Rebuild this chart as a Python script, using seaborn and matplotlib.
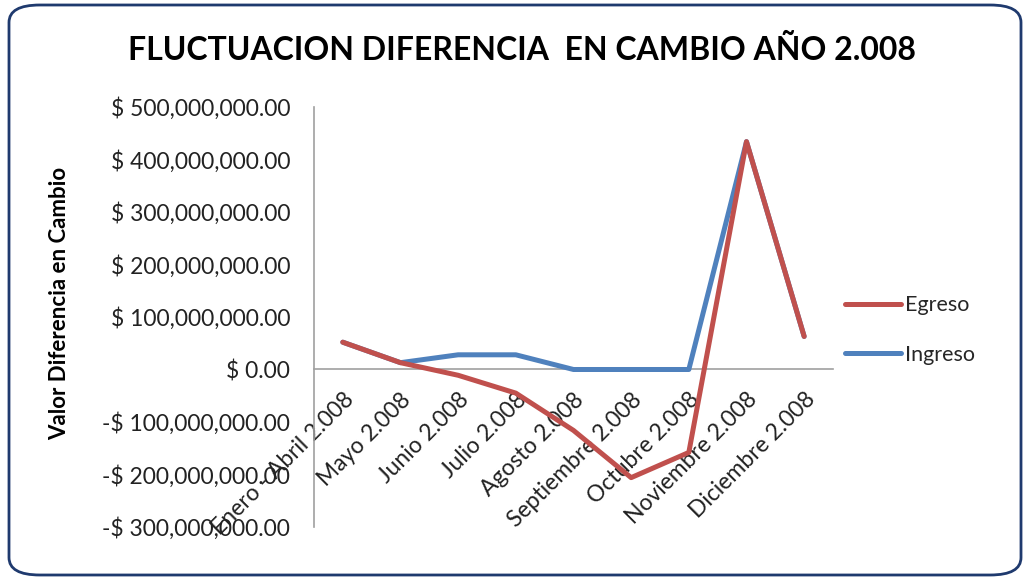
import matplotlib
matplotlib.use("Agg")
import matplotlib.pyplot as plt
from matplotlib.patches import FancyBboxPatch
from matplotlib.lines import Line2D
from matplotlib.ticker import FuncFormatter, MultipleLocator
import seaborn as sns
import pandas as pd

meses = ["Enero - Abril 2.008", "Mayo 2.008", "Junio 2.008", "Julio 2.008",
         "Agosto 2.008", "Septiembre 2.008", "Octubre 2.008",
         "Noviembre 2.008", "Diciembre 2.008"]
egreso = [52e6, 13e6, -11e6, -45e6, -116e6, -206e6, -158e6, 434e6, 63e6]
ingreso = [52e6, 13e6, 28e6, 28e6, 0, 0, 0, 434e6, 63e6]

df = pd.DataFrame({
    "Mes": meses * 2,
    "Valor": ingreso + egreso,
    "Serie": ["Ingreso"] * len(meses) + ["Egreso"] * len(meses),
})

sns.set_theme(style="white")
plt.rcParams["font.family"] = ["Lato", "DejaVu Sans"]

colors = {"Egreso": "#C0504D", "Ingreso": "#4F81BD"}

fig = plt.figure(figsize=(10.28, 5.8), dpi=100)
ax = fig.add_axes([0.3054, 0.0914, 0.8103 - 0.3054, 0.8155 - 0.0914])

sns.lineplot(data=df, x="Mes", y="Valor", hue="Serie",
             hue_order=["Ingreso", "Egreso"], palette=colors,
             sort=False, linewidth=3.6, ax=ax, legend=False)
for ln in ax.get_lines():
    ln.set_zorder(4)

ax.set_xlim(-0.5, len(meses) - 0.5)
ax.set_ylim(-300e6, 500e6)
ax.yaxis.set_major_locator(MultipleLocator(100e6))

def fmt(v, pos):
    if abs(v) < 1:
        return "$ 0.00"
    s = "$ {:,.2f}".format(abs(v))
    return ("-" + s) if v < 0 else s

ax.yaxis.set_major_formatter(FuncFormatter(fmt))
ax.set_xlabel("")
ax.set_ylabel("")

for s in ["top", "right"]:
    ax.spines[s].set_visible(False)
ax.spines["left"].set_color("#A0A0A0")
ax.spines["left"].set_linewidth(1.2)
ax.spines["bottom"].set_position(("data", 0))
ax.spines["bottom"].set_color("#A0A0A0")
ax.spines["bottom"].set_linewidth(1.2)

ax.tick_params(axis="y", length=0, labelsize=16.5, pad=17, colors="#222222")
ax.tick_params(axis="x", length=0, labelsize=16.5, pad=14, colors="#222222")
ax.set_xticks(range(len(meses)))
ax.set_xticklabels(meses, rotation=45, ha="right", rotation_mode="anchor")

fig.text(0.508, 1 - 50 / 580, "FLUCTUACION DIFERENCIA  EN CAMBIO AÑO 2.008",
         ha="center", va="center", fontsize=23, fontweight="bold", color="black")
fig.text(0.058, 1 - 303 / 580, "Valor Diferencia en Cambio", rotation=90,
         ha="center", va="center", fontsize=16, fontweight="bold", color="black")

handles = [Line2D([], [], color=colors["Egreso"], lw=3.6),
           Line2D([], [], color=colors["Ingreso"], lw=3.6)]
fig.legend(handles, ["Egreso", "Ingreso"], loc="center left",
           bbox_to_anchor=(0.803, 1 - 330 / 580), frameon=False,
           fontsize=15.5, handlelength=2.6, labelspacing=1.35, handletextpad=0.2)

border = FancyBboxPatch((9 / 1028, 5 / 580), 1012 / 1028, 570 / 580,
                        boxstyle="round,pad=0,rounding_size=0.03",
                        transform=fig.transFigure, fill=False,
                        edgecolor="#1F3A6E", linewidth=2.0)
fig.patches.append(border)

fig.savefig("out.png", dpi=100)
